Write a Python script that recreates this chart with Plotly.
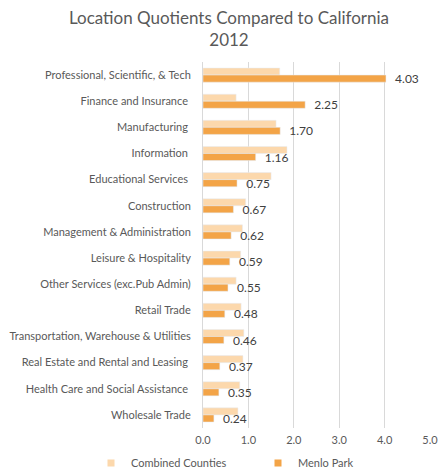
import plotly.graph_objects as go

categories = [
    "Professional, Scientific, & Tech",
    "Finance and Insurance ",
    "Manufacturing ",
    "Information ",
    "Educational Services ",
    "Construction",
    "Management & Administration",
    "Leisure & Hospitality",
    "Other Services (exc.Pub Admin)",
    "Retail Trade",
    "Transportation, Warehouse & Utilities",
    "Real Estate and Rental and Leasing ",
    "Health Care and Social Assistance ",
    "Wholesale Trade",
]
combined_counties = [1.69, 0.73, 1.61, 1.85, 1.50, 0.94, 0.87, 0.83, 0.73, 0.84, 0.90, 0.88, 0.81, 0.77]
menlo_park = [4.03, 2.25, 1.70, 1.16, 0.75, 0.67, 0.62, 0.59, 0.55, 0.48, 0.46, 0.37, 0.35, 0.24]
x_ticks = [0, 1, 2, 3, 4, 5]

FONT = "Lato"
TEXT = "#595959"
LIGHT = "#FCD8AC"
DARK = "#F3A447"

fig = go.Figure()
fig.add_trace(go.Bar(
    name="Combined Counties", y=categories, x=combined_counties, orientation="h",
    marker=dict(color=LIGHT), showlegend=False,
))
fig.add_trace(go.Bar(
    name="Menlo Park", y=categories, x=menlo_park, orientation="h",
    marker=dict(color=DARK), showlegend=False,
    texttemplate="\u00a0\u00a0%{x:.2f}", textposition="outside", cliponaxis=False,
    constraintext="none",
    textfont=dict(family=FONT, size=12, color="#404040"),
))
# legend keys: small squares
for name, color in [("Combined Counties", LIGHT), ("Menlo Park", DARK)]:
    fig.add_trace(go.Scatter(
        x=[None], y=[None], mode="markers", name=name,
        marker=dict(symbol="square", size=7, color=color),
        showlegend=True,
    ))

fig.update_layout(
    width=439, height=470,
    paper_bgcolor="white", plot_bgcolor="white",
    barmode="group", bargap=0.46, bargroupgap=0,
    margin=dict(l=203, r=9, t=62, b=42, autoexpand=False),
    font=dict(family=FONT, color=TEXT, size=11),
    title=dict(
        text="Location Quotients Compared to California<br>2012",
        x=229 / 439, xref="container", xanchor="center",
        y=0.95, yref="container", yanchor="top",
        font=dict(family=FONT, size=17, color=TEXT),
    ),
    xaxis=dict(
        range=[0, 5], tickvals=x_ticks, tickformat=".1f",
        showgrid=True, gridcolor="#D9D9D9", gridwidth=1,
        zeroline=False, showline=False,
        tickfont=dict(family=FONT, size=11, color=TEXT),
        ticks="", ticklabelstandoff=4,
    ),
    yaxis=dict(
        autorange="reversed", showgrid=False,
        showline=True, linecolor="#D9D9D9", linewidth=1,
        ticks="", ticklabelstandoff=9,
        tickfont=dict(family=FONT, size=11, color=TEXT),
    ),
    legend=dict(
        orientation="h", xref="paper", yref="paper",
        x=(91 - 203) / 227, xanchor="left", y=(428 - 463) / 366, yanchor="middle",
        entrywidth=122, entrywidthmode="pixels", itemwidth=30,
        font=dict(family=FONT, size=11, color=TEXT),
        itemclick=False, tracegroupgap=0,
    ),
    showlegend=True,
)

fig.write_html("out.html")
